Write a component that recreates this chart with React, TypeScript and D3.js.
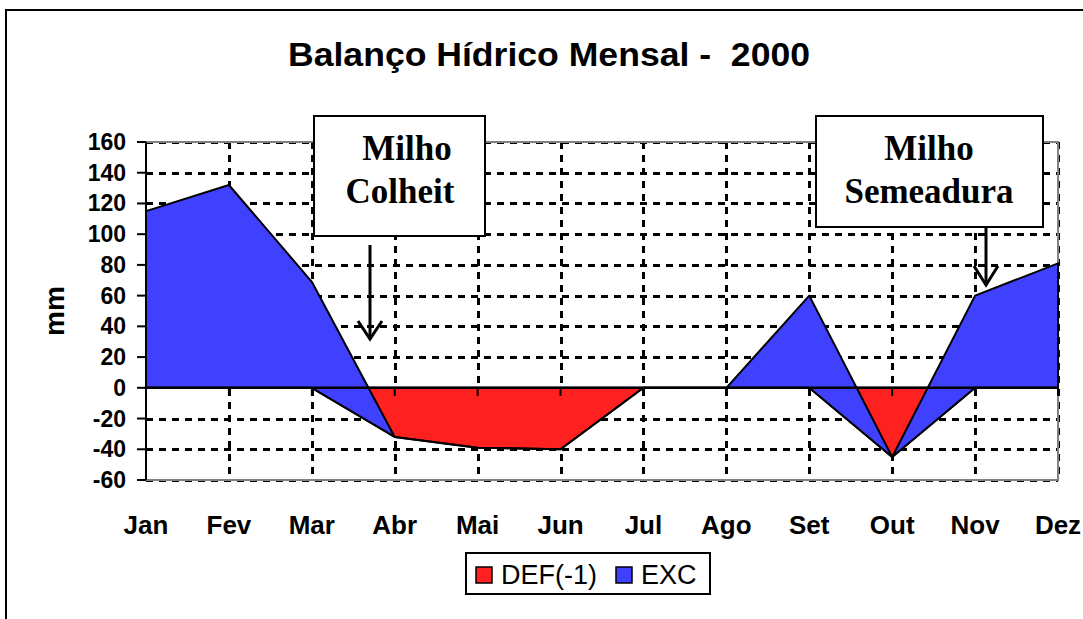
import React from 'react';
import * as d3 from 'd3';

// monthly water balance, mm
const months = ['Jan', 'Fev', 'Mar', 'Abr', 'Mai', 'Jun', 'Jul', 'Ago', 'Set', 'Out', 'Nov', 'Dez'];
const defValues = [0, 0, 0, -32, -39, -40, 0, 0, 0, -45, 0, 0];
const excValues = [115, 132, 69, 0, 0, 0, 0, 0, 60, 0, 60, 81];
const yTicks = [-60, -40, -20, 0, 20, 40, 60, 80, 100, 120, 140, 160];
const seriesNames = ['DEF(-1)', 'EXC'];
const seriesColors = ['#ff2020', '#4040ff'];

const W = 1083;
const H = 619;
const plot = { left: 146, right: 1058, top: 142, bottom: 480 };
const sans = '"Liberation Sans", Arial, sans-serif';
const serif = '"Liberation Serif", "Times New Roman", serif';

export default function App() {
  const x = d3.scalePoint<string>().domain(months).range([plot.left, plot.right]);
  const y = d3.scaleLinear().domain([-60, 160]).range([plot.bottom, plot.top]);
  // crisp 3px grid lines
  const px = (v: number) => Math.round(v) + 0.5;

  // Excel stacked area: EXC sits on top of DEF
  const rows = months.map((m, i) => ({ month: m, def: defValues[i], exc: excValues[i] }));
  const stacked = d3.stack<any>().keys(['def', 'exc'])(rows);

  const area = d3.area<any>()
    .x((d) => x(d.data.month) as number)
    .y0((d) => y(d[0]))
    .y1((d) => y(d[1]));

  const dash = '7 6';

  return (
    <svg width={W} height={H} style={{ position: 'absolute', left: 0, top: 0, background: '#fff' }}>
      {/* chart border */}
      <rect x={6} y={10} width={W + 20} height={H + 20} fill="#fff" stroke="#000" strokeWidth={2} />

      <text x={549} y={66} textAnchor="middle" fontFamily={sans} fontWeight="bold" fontSize={33}
        textLength={522} lengthAdjust="spacingAndGlyphs" style={{ whiteSpace: 'pre' }}>
        Balanço Hídrico Mensal -  2000
      </text>

      {/* gridlines */}
      <g stroke="#000" strokeWidth={3} strokeDasharray={dash}>
        {yTicks.filter((t) => t !== 0).map((t) => (
          <line key={t} x1={plot.left} x2={plot.right} y1={px(y(t))} y2={px(y(t))} />
        ))}
        {months.slice(1).map((m) => (
          <line key={m} x1={px(x(m) as number)} x2={px(x(m) as number)} y1={plot.top} y2={plot.bottom} />
        ))}
      </g>

      {/* plot area border */}
      <rect x={plot.left} y={plot.top} width={plot.right - plot.left} height={plot.bottom - plot.top}
        fill="none" stroke="#808080" strokeWidth={2} />

      {/* areas */}
      {stacked.map((s, i) => (
        <path key={s.key} d={area(s) || ''} fill={seriesColors[i]} stroke="#000" strokeWidth={2}
          strokeLinejoin="round" />
      ))}

      {/* category axis at zero */}
      <line x1={plot.left} x2={plot.right} y1={y(0)} y2={y(0)} stroke="#000" strokeWidth={2.5} />
      {months.map((m) => (
        <line key={m} x1={x(m)} x2={x(m)} y1={y(0)} y2={y(0) + 8} stroke="#000" strokeWidth={2} />
      ))}

      {/* value axis */}
      <line x1={plot.left} x2={plot.left} y1={plot.top} y2={plot.bottom} stroke="#000" strokeWidth={2} />
      {yTicks.map((t) => (
        <g key={t}>
          <line x1={plot.left - 9} x2={plot.left} y1={y(t)} y2={y(t)} stroke="#000" strokeWidth={2} />
          <text x={126} y={y(t) + 8} textAnchor="end" fontFamily={sans} fontWeight="bold" fontSize={23}>
            {t}
          </text>
        </g>
      ))}

      <text transform="translate(64,311) rotate(-90)" textAnchor="middle" fontFamily={sans}
        fontWeight="bold" fontSize={28}>mm</text>

      {/* month labels */}
      {months.map((m) => (
        <text key={m} x={x(m)} y={534} textAnchor="middle" fontFamily={sans} fontWeight="bold" fontSize={26}>
          {m}
        </text>
      ))}

      {/* annotation boxes */}
      <rect x={314} y={116} width={171} height={120} fill="#fff" stroke="#000" strokeWidth={2} />
      <text x={407} y={160} textAnchor="middle" fontFamily={serif} fontWeight="bold" fontSize={35}>Milho</text>
      <text x={400} y={203} textAnchor="middle" fontFamily={serif} fontWeight="bold" fontSize={35}>Colheit</text>
      <g stroke="#000" strokeWidth={3} fill="none">
        <line x1={370} x2={370} y1={245} y2={339} />
        <polyline points="358,321 370,339 382,321" />
      </g>

      <rect x={816} y={116} width={227} height={111} fill="#fff" stroke="#000" strokeWidth={2} />
      <text x={929} y={160} textAnchor="middle" fontFamily={serif} fontWeight="bold" fontSize={35}>Milho</text>
      <text x={929} y={203} textAnchor="middle" fontFamily={serif} fontWeight="bold" fontSize={35}>Semeadura</text>
      <g stroke="#000" strokeWidth={3} fill="none">
        <line x1={986} x2={986} y1={227} y2={285} />
        <polyline points="974,266 986,285 998,266" />
      </g>

      {/* legend */}
      <rect x={466} y={553} width={244} height={41} fill="#fff" stroke="#000" strokeWidth={2} />
      {seriesNames.map((name, i) => {
        const lx = i === 0 ? 476 : 616;
        return (
          <g key={name}>
            <rect x={lx} y={567} width={16} height={16} fill={seriesColors[i]} stroke="#000" strokeWidth={1.5} />
            <text x={lx + 25} y={584} fontFamily={sans} fontSize={27}>{name}</text>
          </g>
        );
      })}
    </svg>
  );
}
